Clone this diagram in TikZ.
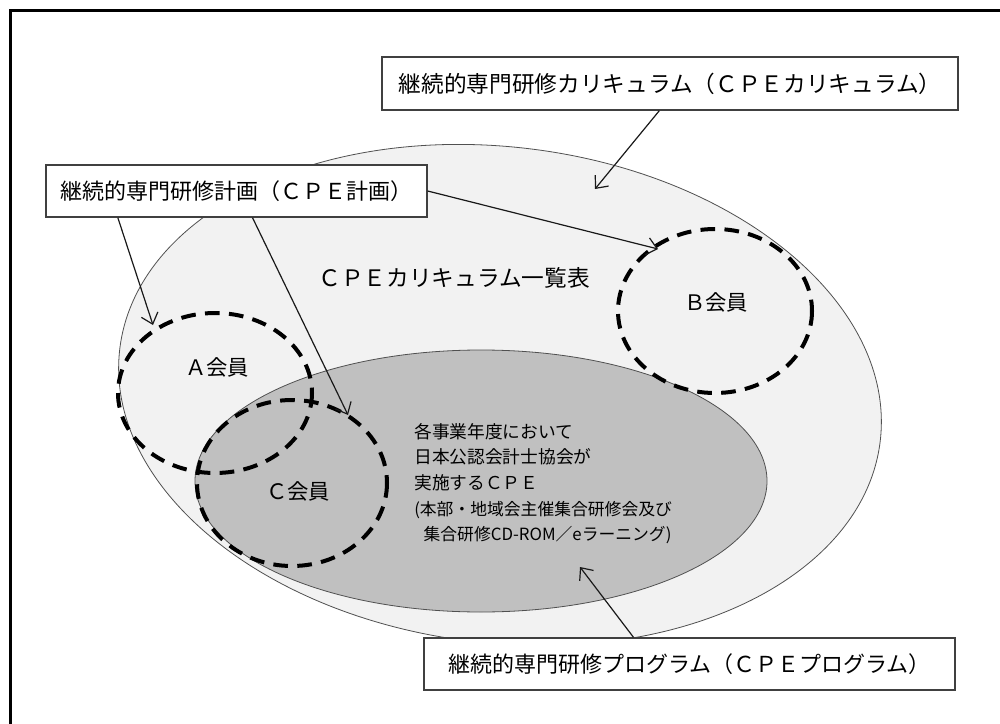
\documentclass[tikz,border=0pt]{standalone}
\usepackage{fontspec}
\setmainfont{Noto Sans CJK JP}
\usetikzlibrary{arrows.meta, positioning}
\definecolor{FieldColor}{RGB}{242,242,242}
\definecolor{ProgramColor}{RGB}{192,192,192}
\definecolor{EdgeColor}{RGB}{80,80,80}
\tikzset{
  label box/.style={draw=black!75, line width=1pt, fill=white, inner sep=0pt, font=\fontsize{16.5pt}{20pt}\selectfont},
  field/.style={fill=FieldColor, draw=EdgeColor, line width=0.6pt},
  program field/.style={fill=ProgramColor, draw=EdgeColor, line width=0.6pt},
  member/.style={draw=black, line width=3pt, dash pattern=on 11pt off 7pt},
  member text/.style={inner sep=0pt, font=\fontsize{16pt}{19pt}\selectfont},
  pointer/.style={draw=black!90, line width=0.9pt, -{Straight Barb[length=7.5pt,width=13pt]}}
}

\begin{document}
\begin{tikzpicture}[x=0.75pt, y=-0.75pt]
  \useasboundingbox (0,0) rectangle (1000,724);

  % Frame
  \draw[line width=2.25pt] (10,724) -- (10,11) -- (1000,11);

  % CPE curriculum
  \draw[field, rotate around={-7:(500,395)}] (500,395) ellipse [x radius=383, y radius=248];
  \node[member text, font=\fontsize{17pt}{20pt}\selectfont] (list) at (454,278) {ＣＰＥカリキュラム一覧表};

  % CPE programs
  \draw[program field] (481,481) ellipse [x radius=286, y radius=131];
  \node[inner sep=0pt, anchor=north west, align=left, font=\fontsize{13.3pt}{19.2pt}\selectfont] (programs) at (414,423)
    {各事業年度において\\日本公認会計士協会が\\実施するＣＰＥ\\
     {\fontsize{12.6pt}{19.2pt}\selectfont (本部・地域会主催集合研修会及び}\\
     {\fontsize{12.6pt}{19.2pt}\selectfont \hspace*{7pt}集合研修CD-ROM／eラーニング)}};

  % Members
  \draw[member] (215,393) ellipse [x radius=97, y radius=80];
  \draw[member] (292,483) ellipse [x radius=95, y radius=83];
  \draw[member] (715,311) ellipse [x radius=97, y radius=82];
  \node[member text] (amem) at (217,367) {Ａ会員};
  \node[member text] (bmem) at (716,302) {Ｂ会員};
  \node[member text] (cmem) at (298,491) {Ｃ会員};

  % Label boxes
  \node[label box, font=\fontsize{17pt}{20pt}\selectfont, minimum width=432pt, minimum height=39.75pt] (curbox) at (670,83.5) {継続的専門研修カリキュラム（ＣＰＥカリキュラム）};
  \node[label box, minimum width=285.75pt, minimum height=39pt] (planbox) at (236.5,191) {継続的専門研修計画（ＣＰＥ計画）};
  \node[label box, minimum width=398.25pt, minimum height=39pt] (progbox) at (689.5,664) {継続的専門研修プログラム（ＣＰＥプログラム）};

  % Arrow tips
  \coordinate (curtip) at (595,189);
  \coordinate (atip) at (153,325);
  \coordinate (btip) at (658,249);
  \coordinate (ctip) at (348,415);
  \coordinate (progtip) at (580,567);

  % Pointers
  \draw[pointer] ([xshift=-8pt]curbox.south) -- (curtip);
  \draw[pointer] (planbox.east) -- (btip);
  \draw[pointer] ([xshift=-89pt]planbox.south) -- (atip);
  \draw[pointer] ([xshift=12pt]planbox.south) -- (ctip);
  \draw[pointer] ([xshift=-42pt]progbox.north) -- (progtip);
\end{tikzpicture}
\end{document}
